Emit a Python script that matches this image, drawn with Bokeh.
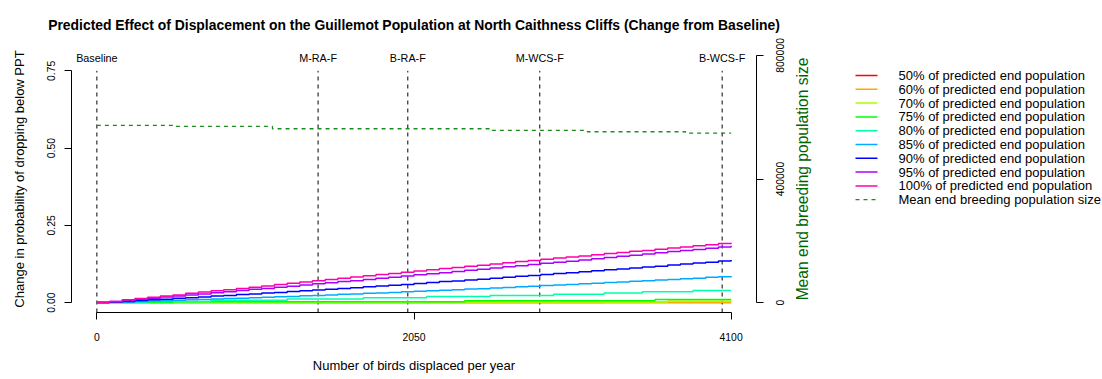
import math
from bokeh.plotting import figure
from bokeh.layouts import row
from bokeh.models import Range1d, LinearAxis, FixedTicker, PrintfTickFormatter
from bokeh.core.properties import value
from bokeh.embed import file_html
from bokeh.resources import INLINE

# ---------------- data ----------------
birds = list(range(0, 4101, 82))   # x grid: number of birds displaced per year (51 steps)

p50 = [0.000, 0.000, 0.000, 0.000, 0.000, 0.000, 0.000, 0.000, 0.000, 0.000,
       0.000, 0.000, 0.000, 0.000, 0.000, 0.000, 0.000, 0.000, 0.000, 0.000,
       0.000, 0.000, 0.000, 0.000, 0.000, 0.000, 0.000, 0.000, 0.000, 0.000,
       0.000, 0.000, 0.000, 0.000, 0.000, 0.000, 0.000, 0.000, 0.000, 0.000,
       0.000, 0.000, 0.000, 0.000, 0.000, 0.000, 0.000, 0.000, 0.000, 0.000, 0.000]
p60 = [0.000, 0.000, 0.000, 0.000, 0.000, 0.000, 0.000, 0.000, 0.000, 0.000,
       0.000, 0.000, 0.000, 0.000, 0.000, 0.000, 0.000, 0.000, 0.000, 0.000,
       0.000, 0.000, 0.000, 0.000, 0.000, 0.000, 0.000, 0.000, 0.000, 0.000,
       0.000, 0.000, 0.000, 0.000, 0.000, 0.000, 0.000, 0.000, 0.000, 0.000,
       0.001, 0.001, 0.001, 0.001, 0.001, 0.001, 0.001, 0.001, 0.001, 0.001, 0.001]
p70 = [0.000, 0.000, 0.000, 0.000, 0.000, 0.000, 0.000, 0.000, 0.000, 0.000,
       0.000, 0.000, 0.000, 0.000, 0.000, 0.000, 0.000, 0.000, 0.000, 0.000,
       0.000, 0.000, 0.000, 0.000, 0.000, 0.000, 0.002, 0.002, 0.002, 0.002,
       0.002, 0.002, 0.002, 0.002, 0.002, 0.002, 0.002, 0.002, 0.002, 0.002,
       0.002, 0.002, 0.002, 0.002, 0.002, 0.005, 0.005, 0.005, 0.005, 0.005, 0.005]
p75 = [0.000, 0.000, 0.000, 0.000, 0.000, 0.000, 0.003, 0.003, 0.003, 0.003,
       0.003, 0.003, 0.003, 0.003, 0.003, 0.003, 0.003, 0.003, 0.003, 0.003,
       0.003, 0.003, 0.003, 0.003, 0.003, 0.003, 0.003, 0.003, 0.003, 0.006,
       0.006, 0.006, 0.006, 0.006, 0.006, 0.006, 0.006, 0.006, 0.006, 0.006,
       0.006, 0.006, 0.006, 0.006, 0.010, 0.010, 0.010, 0.010, 0.010, 0.010, 0.010]
p80 = [0.000, 0.001, 0.001, 0.001, 0.004, 0.004, 0.004, 0.004, 0.004, 0.008,
       0.008, 0.008, 0.008, 0.008, 0.008, 0.012, 0.012, 0.012, 0.012, 0.012,
       0.012, 0.016, 0.016, 0.016, 0.016, 0.016, 0.020, 0.020, 0.020, 0.020,
       0.020, 0.023, 0.023, 0.023, 0.023, 0.023, 0.027, 0.027, 0.027, 0.027,
       0.031, 0.031, 0.031, 0.035, 0.035, 0.035, 0.035, 0.039, 0.039, 0.039, 0.039]
p85 = [0.000, 0.001, 0.002, 0.004, 0.005, 0.006, 0.008, 0.009, 0.010, 0.012,
       0.013, 0.014, 0.016, 0.017, 0.019, 0.020, 0.022, 0.023, 0.025, 0.027,
       0.028, 0.030, 0.031, 0.033, 0.035, 0.037, 0.038, 0.040, 0.042, 0.044,
       0.045, 0.047, 0.049, 0.051, 0.053, 0.055, 0.057, 0.059, 0.061, 0.063,
       0.065, 0.067, 0.069, 0.071, 0.073, 0.075, 0.077, 0.079, 0.082, 0.084, 0.086]
p90 = [0.000, 0.002, 0.004, 0.007, 0.009, 0.011, 0.014, 0.016, 0.018, 0.021,
       0.023, 0.026, 0.028, 0.031, 0.033, 0.036, 0.038, 0.041, 0.043, 0.046,
       0.048, 0.051, 0.054, 0.056, 0.059, 0.062, 0.065, 0.068, 0.070, 0.073,
       0.076, 0.079, 0.082, 0.085, 0.088, 0.091, 0.094, 0.097, 0.100, 0.103,
       0.106, 0.109, 0.112, 0.115, 0.118, 0.122, 0.125, 0.128, 0.131, 0.135, 0.138]
p95 = [0.000, 0.004, 0.007, 0.011, 0.014, 0.018, 0.021, 0.025, 0.028, 0.032,
       0.035, 0.039, 0.043, 0.046, 0.050, 0.053, 0.057, 0.061, 0.064, 0.068,
       0.071, 0.075, 0.079, 0.082, 0.086, 0.090, 0.093, 0.097, 0.101, 0.105,
       0.108, 0.112, 0.116, 0.119, 0.123, 0.127, 0.131, 0.134, 0.138, 0.142,
       0.146, 0.150, 0.153, 0.157, 0.161, 0.165, 0.169, 0.172, 0.176, 0.180, 0.184]
p100 = [0.000, 0.004, 0.009, 0.013, 0.017, 0.021, 0.025, 0.030, 0.034, 0.038,
        0.042, 0.046, 0.050, 0.054, 0.059, 0.063, 0.067, 0.071, 0.075, 0.079,
        0.083, 0.087, 0.091, 0.094, 0.098, 0.102, 0.106, 0.110, 0.114, 0.118,
        0.121, 0.125, 0.129, 0.133, 0.136, 0.140, 0.144, 0.148, 0.151, 0.155,
        0.159, 0.162, 0.166, 0.169, 0.173, 0.177, 0.180, 0.184, 0.187, 0.191, 0.194]

series = [p50, p60, p70, p75, p80, p85, p90, p95, p100]
series_labels = ["50% of predicted end population", "60% of predicted end population",
                 "70% of predicted end population", "75% of predicted end population",
                 "80% of predicted end population", "85% of predicted end population",
                 "90% of predicted end population", "95% of predicted end population",
                 "100% of predicted end population"]
series_colors = ["#FF0000", "#FFAA00", "#AAFF00", "#00FF00", "#00FFAA",
                 "#00AAFF", "#0000FF", "#AA00FF", "#FF00AA"]

pop_x = [0, 507, 1135, 2544, 3171, 3805, 4100]
pop_y = [573300, 570100, 562600, 557100, 552900, 548400, 548400]
pop_label = "Mean end breeding population size"
pop_color = "#1f8a1f"

marker_x = [0, 1430, 2010, 2863, 4042]
marker_labels = ["Baseline", "M-RA-F", "B-RA-F", "M-WCS-F", "B-WCS-F"]

x_ticks = [0, 2050, 4100]
y_ticks = [0.0, 0.25, 0.5, 0.75]
pop_ticks = [0, 400000, 800000]
pop_tick_labels = ["0", "400000", "800000"]

title_text = ("Predicted Effect of Displacement on the Guillemot Population at "
              "North Caithness Cliffs (Change from Baseline)")
x_title = "Number of birds displaced per year"
y_title = "Change in probability of dropping below PPT"

FONT = "Liberation Sans"
TICK_FS = 10.4
W, H = 1102, 379
MAIN_W = 795
FRAME_TOP, FRAME_BOTTOM = 45, 312
POP_RANGE = (-32000, 832000)

# ---------------- main figure ----------------
p = figure(width=MAIN_W, height=H, x_range=Range1d(-164, 4264),
           y_range=Range1d(-0.032, 0.832), output_backend="svg",
           toolbar_location=None, min_border_left=71, min_border_right=MAIN_W - 756,
           min_border_top=FRAME_TOP, min_border_bottom=H - FRAME_BOTTOM)
p.outline_line_color = None
p.xgrid.visible = False
p.ygrid.visible = False
p.extra_y_ranges = {"pop": Range1d(*POP_RANGE)}

p.title.text = title_text
p.title.align = "center"
p.title.text_font = FONT
p.title.text_font_size = "13.9px"
p.title.text_font_style = "bold"
p.title.text_color = "black"
p.title.standoff = 26


def style_axis(ax, standoff):
    ax.axis_line_color = "black"
    ax.major_tick_line_color = "black"
    ax.minor_tick_line_color = None
    ax.major_tick_out = 7
    ax.major_tick_in = 0
    ax.major_label_text_font = FONT
    ax.major_label_text_font_size = f"{TICK_FS}px"
    ax.major_label_text_color = "black"
    ax.major_label_standoff = standoff
    ax.axis_label_text_font = FONT
    ax.axis_label_text_font_size = "13px"
    ax.axis_label_text_font_style = "normal"
    ax.axis_label_text_color = "black"


xa = p.xaxis[0]
xa.ticker = FixedTicker(ticks=x_ticks)
xa.bounds = (x_ticks[0], x_ticks[-1])
xa.formatter = PrintfTickFormatter(format="%d")
style_axis(xa, 13)
xa.axis_label = x_title
xa.axis_label_standoff = 14

ya = p.yaxis[0]
ya.ticker = FixedTicker(ticks=y_ticks)
ya.bounds = (y_ticks[0], y_ticks[-1])
ya.formatter = PrintfTickFormatter(format="%.2f")
ya.major_label_orientation = "vertical"
style_axis(ya, 9)
ya.axis_label = y_title
ya.axis_label_standoff = 18

# right axis: line + tick marks at the true positions
ra = LinearAxis(y_range_name="pop")
ra.ticker = FixedTicker(ticks=pop_ticks)
ra.bounds = (pop_ticks[0], pop_ticks[-1])
style_axis(ra, 0)
ra.major_label_text_font_size = "0px"
ra.major_label_overrides = {t: "" for t in pop_ticks}
p.add_layout(ra, "right")

# right axis labels, reading bottom-to-top like the reference; Bokeh anchors such
# labels at their start, so the anchor is moved down by half the text length
px_per_unit = (FRAME_BOTTOM - FRAME_TOP) / (POP_RANGE[1] - POP_RANGE[0])
half_len = [0.556 * TICK_FS * len(s) / 2 for s in pop_tick_labels]
anchor_ticks = [int(round(t - h / px_per_unit)) for t, h in zip(pop_ticks, half_len)]
rl = LinearAxis(y_range_name="pop")
rl.ticker = FixedTicker(ticks=anchor_ticks)
style_axis(rl, 17)
rl.axis_line_color = None
rl.major_tick_line_color = None
rl.major_tick_out = 0
rl.major_label_orientation = math.pi / 2
rl.major_label_overrides = {t: s for t, s in zip(anchor_ticks, pop_tick_labels)}
p.add_layout(rl, "right")

# marker lines and labels
p.segment(x0=marker_x, y0=[-0.032] * len(marker_x), x1=marker_x,
          y1=[0.75] * len(marker_x), line_color="black", line_dash="4 4",
          line_width=1)
p.text(x=marker_x, y=[0.792] * len(marker_x), text=marker_labels,
       text_align="center", text_baseline="middle", text_font=value(FONT),
       text_font_size="10.8px", text_color="black")

# series
for ys, col in zip(series, series_colors):
    p.step(birds, ys, mode="after", line_color=col, line_width=1.5)

p.step(pop_x, pop_y, mode="after", y_range_name="pop",
       line_color=pop_color, line_dash="4 4", line_width=1.3)

# ---------------- right-hand panel: secondary axis title + legend ----------------
# this panel's ranges are in page pixels (y measured upwards from the page bottom)
lg = figure(width=W - MAIN_W, height=H, output_backend="svg",
            toolbar_location=None, x_axis_type=None, y_axis_type=None,
            min_border=0, x_range=Range1d(MAIN_W, W),
            y_range=Range1d(H - FRAME_BOTTOM, H - FRAME_TOP))
lg.outline_line_color = None

lg.text(x=[801.5], y=[H - (FRAME_TOP + FRAME_BOTTOM) / 2], text=[pop_label],
        angle=math.pi / 2, text_align="center", text_baseline="middle",
        text_font=value(FONT), text_font_size="15.6px", text_color="#006400")

row_y = [H - (75 + 13.8 * i) for i in range(len(series_labels) + 1)]
n = len(series_labels)
lg.segment(x0=[855] * n, x1=[877] * n, y0=row_y[:n], y1=row_y[:n],
           line_color=series_colors, line_width=1.5)
lg.segment(x0=[855], x1=[877], y0=[row_y[n]], y1=[row_y[n]],
           line_color=pop_color, line_dash="4 4", line_width=1.3)
lg.text(x=[898] * (n + 1), y=row_y, text=series_labels + [pop_label],
        text_align="left", text_baseline="middle", text_font=value(FONT),
        text_font_size="13px", text_color="black")

layout = row(p, lg, spacing=0)
open("out.html", "w").write(file_html(layout, INLINE))
